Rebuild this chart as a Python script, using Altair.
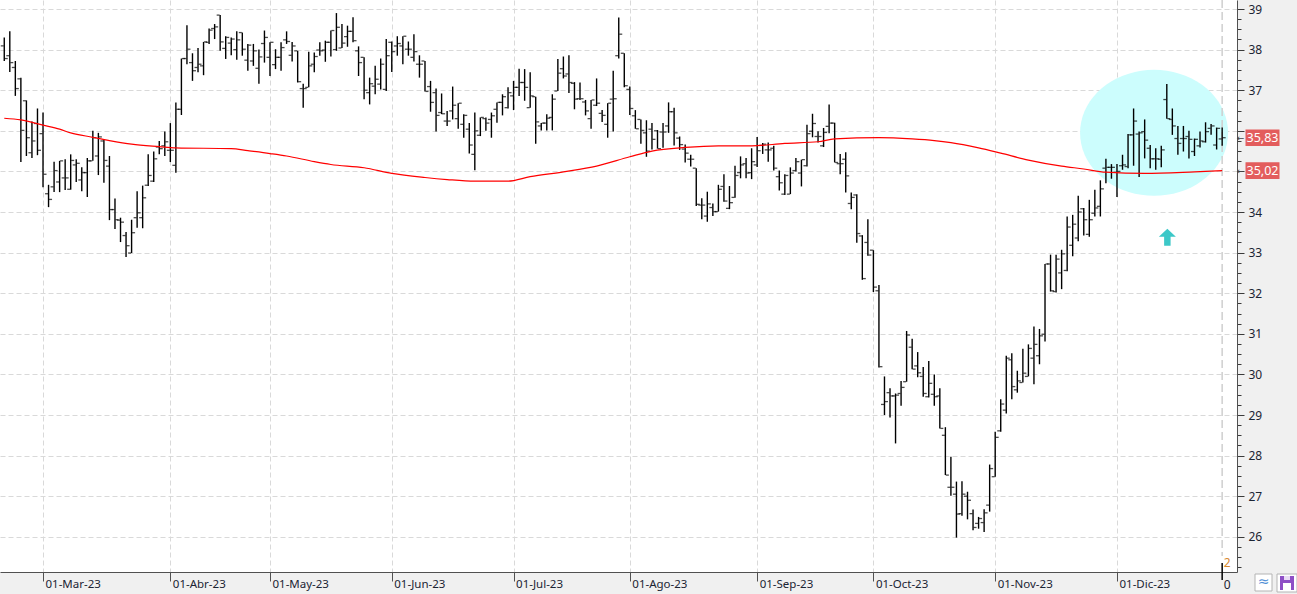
import math
import altair as alt
import pandas as pd

# ---------------- data ----------------
opens = [38.09, 37.85, 37.56, 37.28, 36.74, 35.46, 36.18, 35.93, 34.45, 34.62,
         34.74, 34.84, 34.56, 35.16, 34.79, 34.97, 35.26, 35.38, 35.75, 35.13,
         34.06, 33.80, 33.42, 32.99, 33.86, 33.86, 34.66, 34.76, 35.60, 35.63,
         35.52, 35.15, 36.53, 37.78, 37.68, 37.56, 37.60, 38.18, 38.52, 38.85,
         38.03, 38.16, 38.00, 38.42, 37.74, 37.72, 37.54, 38.15, 37.81, 37.63,
         37.81, 38.24, 37.86, 37.97, 37.04, 37.07, 37.64, 37.99, 37.99, 38.18,
         38.00, 38.04, 38.32, 38.45, 37.97, 37.81, 36.94, 37.10, 37.15, 37.02,
         38.18, 38.09, 38.09, 38.01, 37.81, 37.64, 37.72, 37.09, 36.94, 36.45,
         36.24, 36.49, 36.30, 36.16, 36.04, 35.42, 35.89, 36.30, 36.28, 36.53,
         36.70, 36.57, 36.86, 37.07, 37.19, 36.57, 36.84, 36.12, 36.19, 36.33,
         36.98, 37.53, 37.40, 37.17, 36.79, 36.71, 36.30, 36.63, 36.43, 36.16,
         36.78, 37.85, 37.91, 37.02, 36.37, 36.28, 35.95, 36.04, 36.00, 35.97,
         36.12, 36.47, 35.82, 35.55, 35.30, 35.08, 34.17, 33.90, 34.11, 34.01,
         34.63, 34.09, 34.36, 34.97, 35.19, 34.97, 35.16, 35.64, 35.53, 35.57,
         34.87, 34.44, 34.44, 35.02, 34.96, 35.14, 35.99, 35.86, 35.63, 36.11,
         36.19, 35.19, 35.30, 34.21, 34.42, 33.41, 33.25, 33.06, 32.06, 29.26,
         29.55, 29.47, 29.53, 29.82, 30.67, 30.21, 29.95, 29.45, 29.51, 29.47,
         28.50, 27.22, 27.05, 26.57, 27.00, 26.57, 26.33, 26.35, 26.78, 27.48,
         28.61, 29.12, 30.36, 29.62, 29.80, 29.95, 30.40, 30.46, 30.99, 32.72,
         32.04, 32.50, 32.56, 33.18, 33.36, 34.08, 33.45, 33.97, 34.14, 35.08,
         35.10, 34.98, 35.14, 35.12, 35.90, 35.92, 35.98, 35.57, 35.31, 35.30,
         36.77, 36.28, 35.81, 35.81, 35.86, 35.49, 35.63, 35.73, 36.06, 35.65,
         35.80]
highs = [38.30, 38.45, 37.72, 37.31, 36.75, 36.23, 36.55, 36.45, 34.67, 35.24,
         35.26, 35.30, 35.42, 35.30, 35.10, 35.33, 36.00, 35.95, 35.79, 35.38,
         34.33, 33.86, 33.51, 33.81, 34.51, 34.65, 35.42, 35.49, 35.75, 35.98,
         36.19, 36.70, 37.78, 38.60, 37.91, 38.04, 38.19, 38.52, 38.63, 38.85,
         38.33, 38.30, 38.45, 38.42, 38.14, 38.14, 38.00, 38.47, 38.18, 38.01,
         38.18, 38.45, 38.19, 37.97, 37.16, 37.95, 37.93, 38.18, 38.22, 38.47,
         38.90, 38.63, 38.59, 38.80, 38.08, 37.81, 37.31, 37.60, 37.78, 38.26,
         38.20, 38.33, 38.33, 38.20, 38.38, 37.86, 37.72, 37.23, 37.04, 36.92,
         36.49, 37.09, 36.68, 36.41, 36.19, 36.45, 36.33, 36.33, 36.45, 36.70,
         36.90, 37.07, 37.23, 37.53, 37.52, 37.44, 36.84, 36.19, 36.41, 36.90,
         37.77, 37.83, 37.86, 37.20, 37.19, 36.76, 36.76, 37.29, 36.51, 36.68,
         37.48, 38.79, 37.91, 37.09, 36.51, 36.28, 36.26, 36.19, 36.02, 36.19,
         36.70, 36.57, 35.86, 35.66, 35.41, 35.08, 34.34, 34.50, 34.21, 34.67,
         34.93, 34.64, 35.14, 35.37, 35.33, 35.57, 35.85, 35.70, 35.71, 35.63,
         35.02, 34.93, 35.10, 35.33, 35.29, 36.15, 36.42, 35.99, 36.07, 36.65,
         36.20, 35.43, 35.47, 34.48, 34.44, 33.43, 33.82, 33.06, 32.20, 29.95,
         29.66, 29.53, 29.84, 31.07, 30.88, 30.55, 30.18, 30.33, 30.00, 29.66,
         28.70, 27.97, 27.36, 27.37, 27.11, 26.67, 26.49, 26.68, 27.78, 28.59,
         29.39, 30.46, 30.52, 30.09, 30.63, 30.74, 31.18, 31.12, 32.72, 32.95,
         32.95, 33.07, 33.89, 33.93, 34.40, 34.10, 34.30, 34.55, 34.78, 35.31,
         35.18, 35.18, 35.41, 35.92, 36.55, 35.98, 36.28, 35.65, 35.57, 35.63,
         37.15, 36.55, 36.12, 36.12, 36.00, 35.81, 35.98, 36.21, 36.17, 36.08,
         36.08]
lows = [37.72, 37.45, 36.86, 35.23, 35.38, 35.33, 35.40, 34.61, 34.12, 34.49,
        34.49, 34.54, 34.55, 34.74, 34.51, 34.37, 35.26, 34.91, 34.72, 33.80,
        33.58, 33.26, 32.89, 32.99, 33.61, 33.60, 34.64, 34.74, 35.42, 35.38,
        35.23, 34.97, 36.39, 37.64, 37.23, 37.44, 37.37, 38.14, 38.26, 37.97,
        37.77, 37.86, 37.75, 37.85, 37.48, 37.60, 37.16, 37.68, 37.35, 37.52,
        37.48, 38.14, 37.71, 37.19, 36.57, 37.07, 37.44, 37.85, 37.70, 37.83,
        37.97, 38.04, 38.07, 38.18, 37.35, 36.78, 36.65, 36.90, 37.02, 36.98,
        37.45, 37.85, 37.64, 37.85, 37.71, 37.31, 36.97, 36.47, 35.98, 36.41,
        36.12, 36.28, 36.05, 35.83, 35.44, 35.03, 35.87, 36.00, 35.83, 36.20,
        36.38, 36.55, 36.51, 36.86, 36.74, 36.57, 35.68, 36.01, 36.01, 36.01,
        36.98, 37.29, 36.93, 36.53, 36.76, 36.38, 36.05, 36.61, 36.22, 35.83,
        35.98, 37.78, 37.07, 36.39, 36.05, 35.68, 35.36, 35.54, 35.56, 35.58,
        35.95, 35.64, 35.53, 35.22, 35.12, 34.15, 33.82, 33.76, 33.90, 34.01,
        34.25, 34.07, 34.35, 34.83, 34.83, 34.81, 35.11, 35.43, 35.24, 35.02,
        34.53, 34.42, 34.44, 35.00, 34.63, 35.12, 35.84, 35.71, 35.60, 35.94,
        35.22, 34.93, 34.48, 34.07, 33.24, 32.33, 32.92, 32.03, 30.17, 29.00,
        28.94, 28.30, 29.23, 29.82, 30.13, 29.93, 29.45, 29.43, 29.23, 28.67,
        27.52, 27.01, 25.98, 26.52, 26.43, 26.16, 26.20, 26.12, 26.62, 27.48,
        28.59, 29.04, 29.39, 29.55, 29.80, 29.95, 29.76, 30.25, 30.81, 32.04,
        32.02, 32.10, 32.54, 32.91, 33.28, 33.42, 33.39, 33.89, 33.89, 34.71,
        34.82, 34.37, 35.04, 35.08, 35.14, 34.86, 35.32, 35.08, 35.04, 35.10,
        36.30, 35.90, 35.41, 35.49, 35.32, 35.38, 35.59, 35.71, 35.90, 35.54,
        35.63]
closes = [37.78, 37.68, 37.04, 36.01, 35.83, 35.75, 35.52, 34.93, 34.31, 35.02,
          35.26, 34.84, 35.27, 35.20, 34.97, 35.26, 35.83, 35.85, 35.27, 34.06,
          33.81, 33.75, 33.17, 33.49, 33.98, 34.35, 34.90, 35.31, 35.56, 35.73,
          35.52, 36.53, 37.78, 38.01, 37.48, 37.64, 38.19, 38.48, 38.56, 38.19,
          38.30, 38.26, 38.24, 38.01, 38.11, 37.97, 37.82, 38.30, 38.18, 37.81,
          38.05, 38.20, 38.09, 37.21, 37.04, 37.60, 37.83, 37.97, 38.18, 38.47,
          38.55, 38.16, 38.45, 38.22, 37.68, 37.00, 37.16, 37.27, 37.64, 37.85,
          37.95, 38.15, 38.33, 38.01, 37.95, 37.64, 36.97, 36.70, 36.38, 36.42,
          36.24, 36.63, 36.68, 36.38, 35.65, 36.00, 36.33, 36.19, 36.37, 36.70,
          36.84, 36.94, 37.07, 37.19, 37.07, 36.86, 36.22, 36.19, 36.31, 36.78,
          37.42, 37.35, 37.19, 36.78, 36.79, 36.49, 36.76, 36.68, 36.38, 36.68,
          36.79, 38.38, 37.11, 36.55, 36.05, 36.01, 35.50, 35.79, 35.56, 35.97,
          36.47, 35.95, 35.66, 35.45, 35.30, 34.19, 34.17, 34.20, 34.01, 34.56,
          34.27, 34.23, 34.90, 35.16, 34.96, 35.24, 35.51, 35.67, 35.53, 35.08,
          34.72, 34.90, 34.96, 35.24, 35.29, 35.93, 36.18, 35.86, 35.96, 36.19,
          35.22, 35.19, 34.89, 34.36, 33.47, 32.36, 32.94, 32.15, 30.19, 29.33,
          29.47, 29.49, 29.68, 30.97, 30.13, 30.04, 29.53, 29.78, 29.45, 28.67,
          27.52, 27.22, 26.56, 27.05, 26.90, 26.23, 26.45, 26.59, 27.68, 28.45,
          29.27, 30.40, 29.70, 29.84, 30.03, 30.64, 30.74, 30.95, 32.72, 32.06,
          32.84, 32.97, 33.63, 33.70, 34.00, 33.81, 33.81, 34.10, 34.57, 35.10,
          35.10, 35.00, 35.16, 35.90, 36.24, 35.95, 35.77, 35.31, 35.31, 35.53,
          36.30, 36.12, 35.69, 35.81, 35.79, 35.79, 35.75, 35.98, 36.12, 36.06,
          35.83]

# moving average (red line), read at bar positions
ma_idx = [0, 3, 7, 10, 12, 16, 19, 23, 28, 31, 41, 44, 48, 51, 56, 59, 65, 70, 76,
          80, 85, 91, 95, 101, 107, 113, 117, 123, 129, 135, 141, 147, 150, 158,
          164, 168, 171, 176, 180, 185, 191, 195, 199, 206, 215, 220]
ma_val = [36.31, 36.27, 36.14, 36.04, 35.95, 35.84, 35.76, 35.67, 35.61, 35.58,
          35.56, 35.51, 35.44, 35.38, 35.24, 35.17, 35.09, 34.95, 34.85, 34.80,
          34.76, 34.76, 34.87, 34.99, 35.13, 35.36, 35.50, 35.59, 35.63, 35.63,
          35.69, 35.73, 35.80, 35.83, 35.80, 35.76, 35.71, 35.58, 35.45, 35.28,
          35.13, 35.06, 34.98, 34.95, 34.99, 35.02]

# x axis: bar index of the first session of each month, and its label
month_start_idx = [7, 30, 48, 70, 92, 113, 136, 157, 179, 201]
month_labels = ["01-Mar-23", "01-Abr-23", "01-May-23", "01-Jun-23", "01-Jul-23",
                "01-Ago-23", "01-Sep-23", "01-Oct-23", "01-Nov-23", "01-Dic-23"]

# annotations (data coordinates)
ellipse_center = [207.7, 35.95]
arrow_pos = [210.1, 33.38]

# ---------------- chart ----------------
FONT = "Noto Sans"
W, H = 1237, 572
X_DOMAIN = [-0.77, 222.68]
Y_DOMAIN = [25.133, 39.222]

xs = alt.Scale(domain=X_DOMAIN, nice=False, zero=False)
ys = alt.Scale(domain=Y_DOMAIN, nice=False, zero=False)

label_expr = ("[" + ",".join(f"'{s}'" for s in month_labels) + "][indexof(["
              + ",".join(str(v) for v in month_start_idx) + "], datum.value)]")

x_axis = alt.Axis(values=month_start_idx, labelExpr=label_expr, title=None,
                  grid=True, gridColor="#d9d9d9", gridDash=[5, 3], gridWidth=1,
                  domainColor="#505050", domainWidth=1, tickColor="#505050",
                  tickSize=9, labelAlign="left", labelBaseline="middle",
                  labelPadding=3, labelOffset=2, labelFont=FONT, labelFontSize=11.5,
                  labelColor="#1b2433", labelFlush=False, labelOverlap=False)

# labels 35 and 36 sit under the price boxes in the reference
y_ticks = [25.25 + 0.25 * k for k in range(56)]
y_axis = alt.Axis(orient="right", values=y_ticks,
                  labelExpr="(datum.value % 1 === 0 && datum.value != 35 && datum.value != 36) ? format(datum.value, 'd') : ''",
                  title=None, grid=True, gridColor="#d9d9d9", gridDash=[5, 3],
                  gridOpacity={"condition": {"test": "datum.value % 1 === 0", "value": 1}, "value": 0},
                  tickSize={"condition": {"test": "datum.value % 1 === 0", "value": 7}, "value": 4},
                  tickColor="#3a3a3a", domainColor="#505050", labelPadding=4,
                  labelFont=FONT, labelFontSize=12, labelColor="#1b2433",
                  labelOverlap=False, labelBaseline="middle")


def X(field):
    return alt.X(field, type="quantitative", scale=xs, axis=x_axis)


def Y(field):
    return alt.Y(field, type="quantitative", scale=ys, axis=y_axis)


n = len(opens)
df = pd.DataFrame({"i": list(range(n)), "open": opens, "high": highs,
                   "low": lows, "close": closes})
ma_df = pd.DataFrame({"i": ma_idx, "ma": ma_val})
last_df = df.tail(1)

# ellipse shape (unit path)
pts = []
for k in range(72):
    t = 2 * math.pi * k / 72
    pts.append(f"{math.cos(t):.4f},{0.851 * math.sin(t):.4f}")
ellipse_path = "M" + " L".join(pts) + " Z"
ann_df = pd.DataFrame({"i": [ellipse_center[0]], "p": [ellipse_center[1]]})
arrow_df = pd.DataFrame({"i": [arrow_pos[0]], "p": [arrow_pos[1]]})
arrow_path = "M0,-1 L1,-0.05 L0.38,-0.05 L0.38,1 L-0.38,1 L-0.38,-0.05 L-1,-0.05 Z"

base = alt.Chart(df)

ellipse = alt.Chart(ann_df).mark_point(shape=ellipse_path, size=148 ** 2, filled=True,
                                       fill="#ccfdfd", opacity=1, strokeWidth=0).encode(
    x=X("i"), y=Y("p"))

now_line = alt.Chart(last_df).mark_rule(color="#cfcfcf", strokeWidth=1.5,
                                        strokeDash=[8, 4]).encode(
    x=X("i"), y=alt.value(0), y2=alt.value(556))

bars = base.mark_rule(color="black", strokeWidth=1.4).encode(
    x=X("i"), y=Y("low"), y2="high")
open_t = base.mark_tick(orient="horizontal", color="black", size=3, thickness=1.3,
                        xOffset=-2).encode(x=X("i"), y=Y("open"))
close_t = base.mark_tick(orient="horizontal", color="black", size=3, thickness=1.3,
                         xOffset=2).encode(x=X("i"), y=Y("close"))

ma_line = alt.Chart(ma_df).mark_line(color="#ff0000", strokeWidth=1.2,
                                     interpolate="monotone").encode(
    x=X("i"), y=Y("ma"))

arrow = alt.Chart(arrow_df).mark_point(shape=arrow_path, size=17 ** 2, filled=True,
                                       fill="#3cc8c8", opacity=1, strokeWidth=0).encode(
    x=X("i"), y=Y("p"))

# price labels on the right axis (last close and last MA value)
lab_vals = [closes[-1], ma_val[-1]]
lab_df = pd.DataFrame({
    "v": lab_vals,
    "lo": [v - 0.205 for v in lab_vals],
    "hi": [v + 0.205 for v in lab_vals],
    "t": [f"{v:.2f}".replace(".", ",") for v in lab_vals],
})
lab_box = alt.Chart(lab_df).mark_rect(color="#e35d5d").encode(
    x=alt.value(1245.5), x2=alt.value(1279.5), y=Y("lo"), y2="hi")
lab_txt = alt.Chart(lab_df).mark_text(color="white", font=FONT, fontSize=12.5,
                                      align="center", baseline="middle").encode(
    x=alt.value(1262.5), y=Y("v"), text="t:N")
lab_arrow = alt.Chart(lab_df).mark_text(color="#444444", font="DejaVu Sans", fontSize=9,
                                        align="center", baseline="middle", text="\u2190").encode(
    x=alt.value(1240.5), y=Y("v"))

# bottom-right markers and small buttons
end_tick = alt.Chart(last_df).mark_rule(color="black", strokeWidth=1.5).encode(
    x=X("i"), y=alt.value(563), y2=alt.value(580))
end_two = alt.Chart(last_df).mark_text(text="2", color="#d9892f", font=FONT, fontSize=12,
                                       align="center", baseline="middle", dx=5).encode(
    x=X("i"), y=alt.value(563))
end_zero = alt.Chart(last_df).mark_text(text="0", color="#1b2433", font=FONT, fontSize=12,
                                        align="center", baseline="middle", dx=5).encode(
    x=X("i"), y=alt.value(585))

deco = pd.DataFrame({"k": [0]})
btn1 = alt.Chart(deco).mark_rect(fill="white", stroke="#b4b4b4", strokeWidth=1).encode(
    x=alt.value(1255), x2=alt.value(1272), y=alt.value(574), y2=alt.value(591))
btn1_icon = alt.Chart(deco).mark_text(text="\u2248", color="#4f8fd6", font="DejaVu Sans",
                                      fontSize=14, align="center", baseline="middle").encode(
    x=alt.value(1263.5), y=alt.value(582))
btn2 = alt.Chart(deco).mark_rect(fill="white", stroke="#b4b4b4", strokeWidth=1).encode(
    x=alt.value(1277), x2=alt.value(1297), y=alt.value(574), y2=alt.value(592))
floppy = alt.Chart(deco).mark_rect(fill="#8e4fc6").encode(
    x=alt.value(1280), x2=alt.value(1294), y=alt.value(576), y2=alt.value(590))
floppy_a = alt.Chart(deco).mark_rect(fill="white").encode(
    x=alt.value(1283), x2=alt.value(1291), y=alt.value(583), y2=alt.value(590))
floppy_b = alt.Chart(deco).mark_rect(fill="#e9dcf5").encode(
    x=alt.value(1284), x2=alt.value(1290), y=alt.value(576), y2=alt.value(580))

chart = alt.layer(
    ellipse, now_line, bars, open_t, close_t, ma_line, arrow,
    lab_box, lab_txt, lab_arrow, end_tick, end_two, end_zero,
    btn1, btn1_icon, btn2, floppy, floppy_a, floppy_b,
).properties(
    width=W, height=H,
    background="#f0f0f0",
    padding={"left": 0, "top": 0, "right": 60, "bottom": 22},
    autosize=alt.AutoSizeParams(type="none"),
).configure_view(fill="white", strokeWidth=0)

chart.save("out.html", embed_options={"renderer": "svg", "actions": False})
